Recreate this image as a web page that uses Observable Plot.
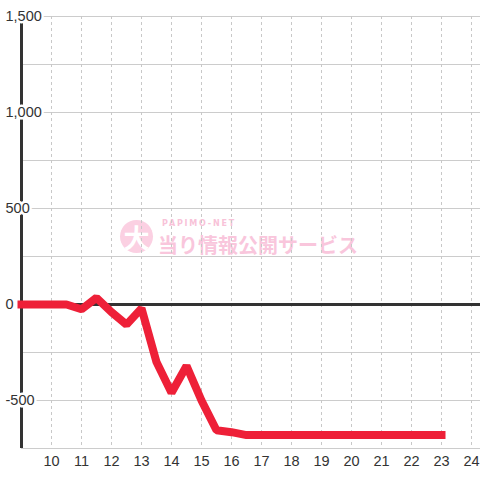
<!DOCTYPE html>
<html>
<head>
<meta charset="utf-8">
<script src="https://cdn.jsdelivr.net/npm/d3@7"></script>
<script src="https://cdn.jsdelivr.net/npm/@observablehq/plot@0.6"></script>
<style>
  html, body { margin: 0; padding: 0; background: #fff; }
  #wrap { position: relative; width: 480px; height: 480px; overflow: hidden; }
  #wrap svg { position: absolute; left: 0; top: 0; }
  .wm { position: absolute; font-family: "Noto Sans CJK JP", sans-serif; font-weight: bold; white-space: nowrap; }
  #wm-circ { left: 120px; top: 220px; width: 33px; height: 33px; border-radius: 50%; background: #fbd0e2; color: #fff; font-size: 26px; line-height: 33px; text-align: center; }
  #wm-small { left: 162px; top: 219px; font-size: 8px; line-height: 10px; letter-spacing: 1.8px; color: #f8c2d8; font-family: "DejaVu Sans", sans-serif; }
  #wm-big { left: 158px; top: 233px; font-size: 20px; line-height: 24px; color: #f9c6dc; }
</style>
</head>
<body>
<div id="wrap">
  <div class="wm" id="wm-circ">大</div>
  <div class="wm" id="wm-small">PAPIMO-NET</div>
  <div class="wm" id="wm-big">当り情報公開サービス</div>
</div>
<script>
const hours = [9, 9.5, 10, 10.5, 11, 11.5, 12, 12.5, 13, 13.5, 14, 14.5, 15, 15.5, 16, 16.5,
               17, 17.5, 18, 18.5, 19, 19.5, 20, 20.5, 21, 21.5, 22, 22.5, 23];
const values = [0, 0, 0, 0, -25, 35, -40, -105, -20, -300, -460, -320, -500, -655, -665, -680,
                -680, -680, -680, -680, -680, -680, -680, -680, -680, -680, -680, -680, -680];
const xTicks = [10, 11, 12, 13, 14, 15, 16, 17, 18, 19, 20, 21, 22, 23, 24];
const yTicks = [-500, 0, 500, 1000, 1500];
const yGrid = [-750, -500, -250, 250, 500, 750, 1000, 1250, 1500];
const xDomain = [9, 24.3];
const yDomain = [-750, 1500];

const data = hours.map((h, i) => ({hour: h, value: values[i]}));
const fmt = d => d.toLocaleString("en-US");

const chart = Plot.plot({
  width: 480,
  height: 480,
  marginLeft: 21,
  marginRight: 0,
  marginTop: 16,
  marginBottom: 32,
  style: {background: "transparent", fontFamily: "'Liberation Sans', Arial, sans-serif", color: "#333"},
  x: {domain: xDomain, axis: null, label: null},
  y: {domain: yDomain, axis: null, label: null},
  marks: [
    Plot.ruleY(yGrid, {stroke: "#cccccc", strokeWidth: 1}),
    Plot.ruleX(xTicks, {stroke: "#c8c8c8", strokeWidth: 1, strokeDasharray: "3,3"}),
    Plot.ruleY([0], {stroke: "#333", strokeWidth: 3}),
    Plot.ruleX([xDomain[0]], {stroke: "#333", strokeWidth: 3}),
    Plot.text(yTicks, {
      y: d => d, frameAnchor: "left", dx: -16, textAnchor: "start",
      text: fmt, fill: "#333", stroke: "#fff", strokeWidth: 5, paintOrder: "stroke",
      fontSize: 14.5
    }),
    Plot.line(data, {
      x: "hour", y: "value", stroke: "#ee2038", strokeWidth: 8,
      strokeLinecap: "square", strokeLinejoin: "bevel"
    }),
    Plot.axisX(xTicks, {tickSize: 0, tickPadding: 7, fontSize: 14.5, fill: "#333", label: null, tickFormat: d => String(d)})
  ]
});
document.getElementById("wrap").appendChild(chart);
</script>
</body>
</html>
